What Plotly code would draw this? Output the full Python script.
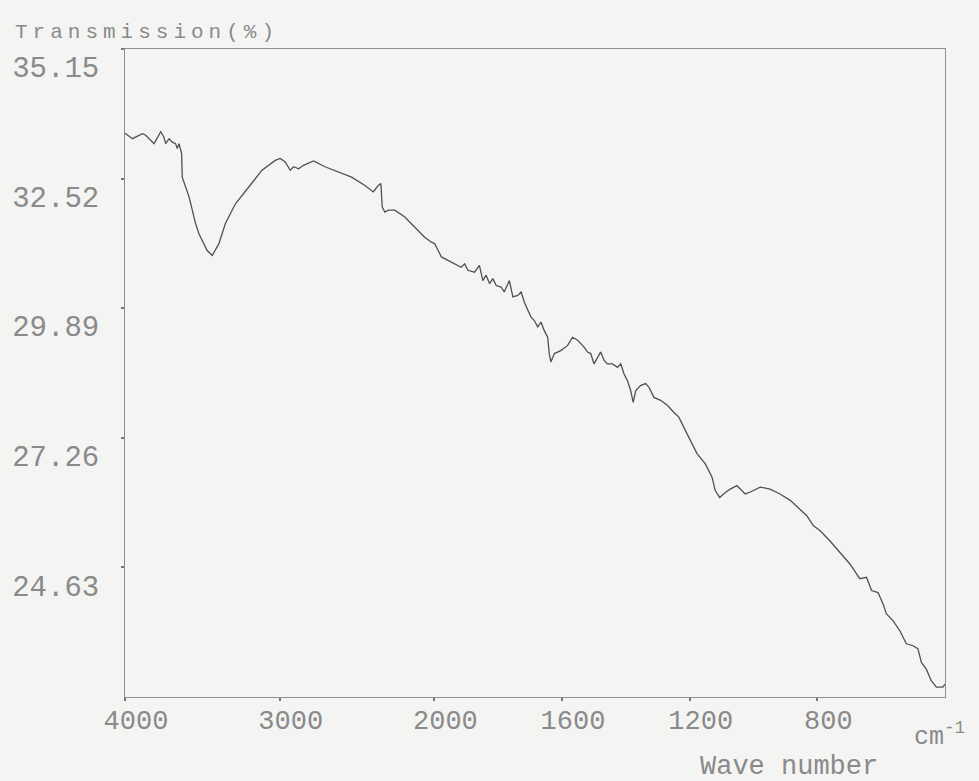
import numpy as np
import plotly.graph_objects as go

# IR transmission spectrum (wavenumber in cm^-1, transmission in %)
wavenumber = [
    4000, 3952, 3887, 3866, 3812, 3769, 3748, 3737, 3715, 3694, 3673, 3662, 3651, 3634,
    3630, 3608, 3586, 3565, 3544, 3522, 3501, 3469, 3436, 3393, 3351, 3286, 3200, 3114,
    3029, 2997, 2964, 2932, 2910, 2878, 2846, 2814, 2781, 2707, 2620, 2535, 2449, 2395,
    2363, 2346, 2337, 2320, 2298, 2256, 2191, 2127, 2063, 2019, 1999, 1978, 1957, 1937,
    1916, 1905, 1895, 1874, 1859, 1848, 1838, 1827, 1817, 1806, 1791, 1781, 1765, 1754,
    1739, 1728, 1718, 1707, 1697, 1687, 1676, 1666, 1656, 1645, 1640, 1635, 1624, 1604,
    1583, 1567, 1551, 1541, 1531, 1520, 1510, 1500, 1489, 1479, 1468, 1458, 1442, 1426,
    1416, 1406, 1395, 1385, 1377, 1369, 1354, 1338, 1328, 1312, 1291, 1270, 1250, 1234,
    1208, 1177, 1151, 1130, 1120, 1106, 1094, 1073, 1052, 1042, 1026, 1010, 979, 948,
    917, 885, 860, 833, 813, 792, 761, 729, 698, 667, 646, 630, 610, 594,
    584, 563, 542, 521, 500, 485, 474, 459, 443, 427, 407, 400,
]
transmission = [
    33.44, 33.33, 33.43, 33.40, 33.23, 33.47, 33.36, 33.23, 33.33, 33.26, 33.23, 33.13, 33.23, 33.03,
    32.55, 32.35, 32.15, 31.88, 31.61, 31.40, 31.27, 31.06, 30.96, 31.20, 31.61, 32.01, 32.35, 32.69,
    32.89, 32.93, 32.86, 32.69, 32.76, 32.72, 32.79, 32.83, 32.88, 32.76, 32.65, 32.55, 32.38, 32.25,
    32.38, 32.42, 31.94, 31.84, 31.88, 31.88, 31.74, 31.54, 31.33, 31.23, 31.20, 30.93, 30.86, 30.79,
    30.72, 30.79, 30.66, 30.62, 30.76, 30.45, 30.56, 30.39, 30.49, 30.35, 30.32, 30.22, 30.45, 30.12,
    30.15, 30.22, 30.01, 29.85, 29.71, 29.64, 29.51, 29.61, 29.44, 29.30, 28.97, 28.80, 28.97, 29.03,
    29.13, 29.30, 29.24, 29.17, 29.10, 29.00, 28.97, 28.76, 28.90, 29.00, 28.83, 28.76, 28.76, 28.69,
    28.76, 28.56, 28.42, 28.22, 27.98, 28.22, 28.32, 28.36, 28.29, 28.08, 28.02, 27.92, 27.78, 27.68,
    27.34, 26.94, 26.73, 26.46, 26.19, 26.05, 26.12, 26.22, 26.29, 26.22, 26.12, 26.16, 26.26, 26.22,
    26.12, 25.99, 25.85, 25.68, 25.48, 25.38, 25.17, 24.94, 24.70, 24.40, 24.43, 24.16, 24.12, 23.89,
    23.69, 23.55, 23.35, 23.08, 23.04, 22.98, 22.70, 22.57, 22.33, 22.20, 22.20, 22.26,
]

x_ticks = [4000, 3000, 2000, 1600, 1200, 800]
x_tick_labels = ["4000", "3000", "2000", "1600", "1200", "800"]
y_ticks = [35.15, 32.52, 29.89, 27.26, 24.63]
y_tick_labels = ["35.15", "32.52", "29.89", "27.26", "24.63"]


def chart_x(w):
    """Spectrometer abscissa: 4000-2000 cm^-1 compressed, below 2000 expanded ~2x."""
    w = np.asarray(w, dtype=float)
    return np.where(w >= 2000, (4000 - w) * 0.15525, 310.5 + (2000 - w) * 0.3203)


GREY_TEXT = "#8a8a8a"
AXIS = "#8e8e8e"
BG = "#f4f4f2"
MONO = "Liberation Mono, Courier New, monospace"

fig = go.Figure()
fig.add_trace(go.Scatter(
    x=chart_x(wavenumber), y=transmission, mode="lines",
    line=dict(color="#505050", width=1.3), showlegend=False, hoverinfo="skip",
))

fig.update_layout(
    width=979, height=781,
    margin=dict(l=122, r=34, t=49, b=84),
    paper_bgcolor=BG, plot_bgcolor=BG,
    font=dict(family=MONO, color=GREY_TEXT),
    xaxis=dict(
        range=[0, float(chart_x(400))],
        tickvals=chart_x(x_ticks).tolist(), ticktext=x_tick_labels,
        showgrid=False, zeroline=False,
        showline=True, linecolor=AXIS, linewidth=1, mirror=True,
        ticks="outside", ticklen=3, tickwidth=2, tickcolor="#777777",
        tickfont=dict(size=27, color=GREY_TEXT, family=MONO),
        ticklabelshift=11, ticklabelstandoff=-4,
    ),
    yaxis=dict(
        range=[22.00, 35.15],
        tickvals=y_ticks, ticktext=y_tick_labels,
        showgrid=False, zeroline=False,
        showline=True, linecolor=AXIS, linewidth=1, mirror=True,
        ticks="outside", ticklen=3, tickwidth=2, tickcolor="#777777",
        tickfont=dict(size=29, color=GREY_TEXT, family=MONO),
        ticklabelshift=18, ticklabelstandoff=16,
    ),
    annotations=[
        dict(text="<span style='letter-spacing:5px'>Transmission(%)</span>",
             xref="paper", yref="paper", x=(10 - 122) / 823, y=(697 - 33) / 648,
             xanchor="left", yanchor="middle", showarrow=False,
             font=dict(size=21, color=GREY_TEXT, family=MONO)),
        dict(text="Wave number",
             xref="paper", yref="paper", x=(697 - 122) / 823, y=(697 - 767) / 648,
             xanchor="left", yanchor="middle", showarrow=False,
             font=dict(size=27, color=GREY_TEXT, family=MONO)),
        dict(text="cm<sup>-1</sup>",
             xref="paper", yref="paper", x=(912 - 122) / 823, y=(697 - 735) / 648,
             xanchor="left", yanchor="middle", showarrow=False,
             font=dict(size=25, color=GREY_TEXT, family=MONO)),
    ],
)

fig.write_html("out.html")
